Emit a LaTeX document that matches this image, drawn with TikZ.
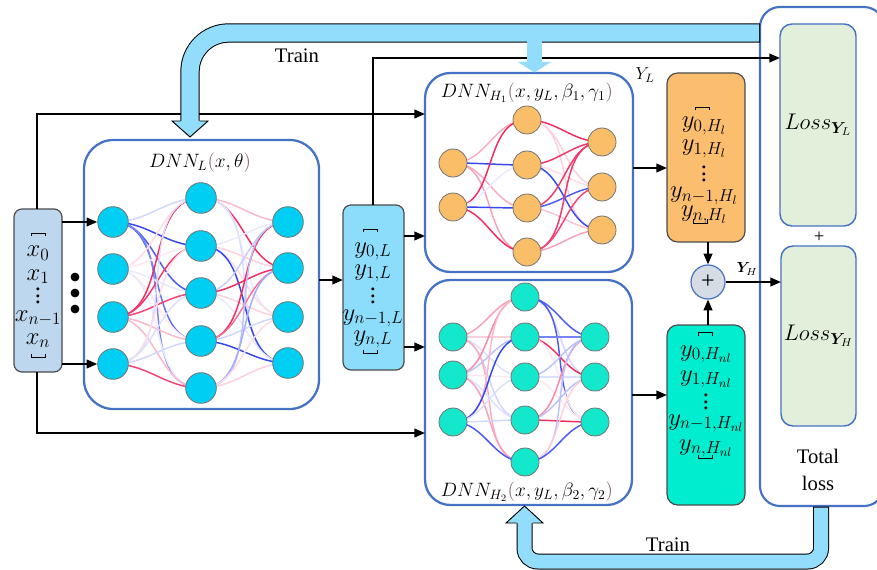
\RequirePackage{fix-cm}
\documentclass[tikz,border=0pt]{standalone}
\usepackage[no-math]{fontspec}
\setmainfont{Liberation Serif}
\usepackage{amsmath}
\usepackage{bm}
\usetikzlibrary{arrows.meta,calc}
\pgfdeclarelayer{boxes}
\pgfdeclarelayer{edges}
\pgfsetlayers{boxes,edges,main}
\definecolor{bandc}{RGB}{146,220,252}
\definecolor{inboxc}{RGB}{189,215,238}
\definecolor{midboxc}{RGB}{140,221,252}
\definecolor{boxblue}{RGB}{68,114,196}
\definecolor{cyann}{RGB}{0,206,242}
\definecolor{orn}{RGB}{250,190,105}
\definecolor{ornbox}{RGB}{250,190,110}
\definecolor{tealn}{RGB}{20,232,204}
\definecolor{tealbox}{RGB}{0,237,207}
\definecolor{lossg}{RGB}{226,239,218}
\definecolor{plusg}{RGB}{214,220,229}
\definecolor{redw}{RGB}{240,20,80}
\definecolor{bluew}{RGB}{30,50,240}
\definecolor{parenc}{RGB}{130,100,100}
\newcommand{\lp}{{\color{parenc}(}}
\newcommand{\rp}{{\color{parenc})}}
\newcommand{\myvdots}{\vbox{\baselineskip5pt\lineskiplimit0pt\hbox{.}\hbox{.}\hbox{.}}}
\tikzset{
  arr/.style={draw=black, line width=1.4pt, -{Triangle[length=8pt,width=6.5pt]}},
  dnnbox/.style={draw=boxblue, line width=1.7pt, fill=white, inner sep=0pt, outer sep=0pt, rounded corners=#1},
  dnnbox/.default=19pt,
  vecbox/.style={draw=black!70, line width=0.9pt, rounded corners=6pt, inner sep=0pt, outer sep=0pt},
  neuron/.style={circle, draw=black!55, line width=0.6pt, inner sep=0pt, minimum size=#1},
  lossbox/.style={draw=boxblue, line width=1.1pt, fill=lossg, rounded corners=9pt, inner sep=0pt, outer sep=0pt},
  vt/.style={font=\fontsize{18.5}{20}\selectfont, inner sep=0pt, anchor=base},
  vd/.style={font=\fontsize{18.5}{20}\selectfont, inner sep=0pt, anchor=center},
  titletext/.style={font=\fontsize{14.5}{17}\selectfont, inner sep=0pt},
  lbl/.style={font=\fontsize{15.5}{20}\selectfont, inner sep=0pt},
  topbr/.pic={\draw[line width=0.6pt] (-7,3.5) -- (-7,0) -- (7,0) -- (7,3.5);},
  botbr/.pic={\draw[line width=0.6pt] (-7,-3.5) -- (-7,0) -- (7,0) -- (7,-3.5);},
}
\begin{document}
\begin{tikzpicture}[x=0.75pt,y=-0.75pt]
\useasboundingbox (0,0) rectangle (877,570);

% ---------- boxes ----------
\begin{pgfonlayer}{boxes}
\node[vecbox, fill=inboxc, minimum width=36pt, minimum height=122.25pt] (vin) at (38,290.5) {};
\node[dnnbox=22pt, minimum width=176.25pt, minimum height=201.75pt] (Lbox) at (201.5,274.5) {};
\node[vecbox, fill=midboxc, minimum width=45.75pt, minimum height=123.75pt] (vmid) at (373.5,287.5) {};
\node[dnnbox, minimum width=156pt, minimum height=149.25pt] (H1box) at (529,172.5) {};
\node[dnnbox, minimum width=155.25pt, minimum height=168.75pt] (H2box) at (528.5,392.5) {};
\node[vecbox, fill=ornbox, rounded corners=8pt, minimum width=58.5pt, minimum height=126.75pt] (vor) at (706,157.5) {};
\node[vecbox, fill=tealbox, rounded corners=8pt, minimum width=58.5pt, minimum height=135pt] (vte) at (706,415) {};
\node[draw=boxblue, line width=1.6pt, fill=white, rounded corners=15pt, inner sep=0pt, outer sep=0pt,
      minimum width=93pt, minimum height=374.25pt] (tot) at (822,256.5) {};
\node[lossbox, minimum width=57pt, minimum height=151.5pt] (lossL) at (818,125) {};
\node[lossbox, minimum width=56.25pt, minimum height=135pt] (lossH) at (818.5,336) {};
\end{pgfonlayer}

% ---------- neurons ----------
\foreach \n/\y in {1/222,2/269,3/317,4/364} \node[neuron=23pt, fill=cyann] (a\n) at (113,\y) {};
\foreach \n/\y in {1/198,2/246,3/293,4/341,5/388} \node[neuron=23pt, fill=cyann] (b\n) at (201,\y) {};
\foreach \n/\y in {1/222,2/268,3/317,4/363} \node[neuron=23pt, fill=cyann] (c\n) at (288,\y) {};
\foreach \n/\y in {1/163,2/207} \node[neuron=21pt, fill=orn] (d\n) at (453,\y) {};
\foreach \n/\y in {1/120,2/165,3/208,4/252} \node[neuron=21pt, fill=orn] (e\n) at (527,\y) {};
\foreach \n/\y in {1/142,2/187,3/230} \node[neuron=21pt, fill=orn] (f\n) at (602,\y) {};
\foreach \n/\y in {1/337,2/375,3/422} \node[neuron=21pt, fill=tealn] (g\n) at (453,\y) {};
\foreach \n/\y in {1/297,2/337,3/377,4/420,5/462} \node[neuron=21pt, fill=tealn] (h\n) at (525,\y) {};
\foreach \n/\y in {1/337,2/377,3/422} \node[neuron=21pt, fill=tealn] (i\n) at (595,\y) {};

% ---------- edges ----------
\begin{pgfonlayer}{edges}
\foreach \s/\t/\c/\o in {
  a1/b1/bluew/20, a1/b2/bluew/90, a1/b3/bluew/80, a1/b4/bluew/70, a1/b5/bluew/60,
  a2/b1/redw/15, a2/b2/redw/10, a2/b3/bluew/10, a2/b4/redw/10, a2/b5/bluew/10,
  a3/b1/redw/90, a3/b2/redw/85, a3/b3/redw/80, a3/b4/redw/30, a3/b5/redw/30,
  a4/b1/bluew/15, a4/b2/redw/15, a4/b3/bluew/15, a4/b4/bluew/20, a4/b5/redw/80,
  b1/c1/redw/30, b1/c2/redw/90, b1/c3/bluew/10, b1/c4/bluew/15,
  b2/c1/bluew/10, b2/c2/redw/20, b2/c3/redw/15, b2/c4/bluew/90,
  b3/c1/bluew/25, b3/c2/redw/90, b3/c3/redw/20, b3/c4/bluew/10,
  b4/c1/redw/90, b4/c2/redw/60, b4/c3/bluew/20, b4/c4/bluew/90,
  b5/c1/bluew/30, b5/c2/bluew/40, b5/c3/redw/15, b5/c4/redw/20,
  d1/e1/redw/35, d1/e2/bluew/90, d1/e3/redw/35, d1/e4/redw/40,
  d2/e1/redw/90, d2/e2/bluew/10, d2/e3/bluew/90, d2/e4/redw/90,
  e1/f1/redw/90, e1/f2/redw/20, e1/f3/redw/20,
  e2/f1/redw/85, e2/f2/redw/15, e2/f3/bluew/90,
  e3/f1/redw/85, e3/f2/bluew/80, e3/f3/redw/25,
  e4/f1/redw/85, e4/f2/redw/80, e4/f3/redw/40,
  g1/h1/redw/40, g1/h2/redw/20, g1/h3/bluew/15, g1/h4/bluew/20, g1/h5/redw/35,
  g2/h1/redw/50, g2/h2/bluew/30, g2/h3/redw/10, g2/h4/bluew/15, g2/h5/redw/40,
  g3/h1/redw/30, g3/h2/bluew/90, g3/h3/bluew/15, g3/h4/bluew/20, g3/h5/bluew/80,
  h1/i1/bluew/80, h1/i2/bluew/20, h1/i3/bluew/80,
  h2/i1/bluew/60, h2/i2/redw/90, h2/i3/redw/10,
  h3/i1/bluew/30, h3/i2/bluew/15, h3/i3/redw/10,
  h4/i1/redw/50, h4/i2/bluew/30, h4/i3/redw/90,
  h5/i1/bluew/30, h5/i2/redw/20, h5/i3/bluew/80}
  \draw[draw=\c!\o!white, line width=1.1pt] (\s.center) to[out=0,in=180] (\t.center);
\end{pgfonlayer}

% ---------- titles ----------
\node[titletext] (tL) at (200,163) {$DNN_{L}\lp x,\theta\rp$};
\node[titletext] (tH1) at (527,93) {$DNN_{H_1}\lp x,y_L,\beta_1,\gamma_1\rp$};
\node[titletext] (tH2) at (527,492) {$DNN_{H_2}\lp x,y_L,\beta_2,\gamma_2\rp$};

% ---------- vector contents ----------
\node[vt] (x0) at (38,257) {$x_0$};
\node[vt] (x1) at (38,280) {$x_1$};
\node[vd] (xd) at (38,296) {\myvdots};
\node[vt] (xn1) at (38,321) {$x_{n-1}$};
\node[vt] (xn) at (38,344) {$x_n$};
\pic at (38,233) {topbr}; \pic at (38,357) {botbr};

\node[vt] (m0) at (373,253) {$y_{0,L}$};
\node[vt] (m1t) at (373,275) {$y_{1,L}$};
\node[vd] (md) at (373,296) {\myvdots};
\node[vt] (mn1) at (373,320) {$y_{n-1,L}$};
\node[vt] (mn) at (373,341) {$y_{n,L}$};
\pic at (370,229) {topbr}; \pic at (370,353) {botbr};

\node[vt] (o0) at (704,128) {$y_{0,H_{l}}$};
\node[vt] (o1t) at (704,151) {$y_{1,H_{l}}$};
\node[vd] (od) at (704,174) {\myvdots};
\node[vt] (on1) at (704,198) {$y_{n-1,H_{l}}$};
\node[vt] (on) at (704,217) {$y_{n,H_{l}}$};
\pic at (702,107) {topbr}; \pic at (700,223) {botbr};

\node[vt] (t0) at (706,356) {$y_{0,H_{nl}}$};
\node[vt] (t1) at (706,381) {$y_{1,H_{nl}}$};
\node[vd] (td) at (706,402) {\myvdots};
\node[vt] (tn1) at (706,425) {$y_{n-1,H_{nl}}$};
\node[vt] (tn) at (706,450) {$y_{n,H_{nl}}$};
\pic at (705,332) {topbr}; \pic at (705,458) {botbr};

% big dots
\foreach \y in {277,293,309} \fill (75,\y) circle (3.3pt);

% ---------- plus & losses ----------
\node[circle, draw=boxblue, fill=plusg, line width=0.9pt, minimum size=25.5pt, inner sep=0pt,
      font=\fontsize{18}{18}\selectfont] (plus) at (708,282) {+};
\node[font=\fontsize{17}{19}\selectfont] (lossLt) at (lossL) {$Loss_{\bm{Y}_{L}}$};
\node[font=\fontsize{17}{19}\selectfont] (lossHt) at (lossH) {$Loss_{\bm{Y}_{H}}$};
\node[font=\fontsize{14}{14}\selectfont, inner sep=0pt] (lplus) at (819,237) {+};
\node[lbl, align=center] (totlbl) at (818,470) {Total\\loss};
\node[font=\fontsize{11}{13}\selectfont, inner sep=0pt] (yhl) at (747,269) {$\bm{Y}_{H}$};
\node[font=\fontsize{13}{15}\selectfont, inner sep=0pt] (yll) at (645,75) {$Y_{L}$};

% ---------- arrows ----------
\draw[arr] (vin.east |- a1) -- (a1.west);
\draw[arr] (vin.east |- a4) -- (a4.west);
\coordinate (lmid) at (0,280);
\draw[arr] (Lbox.east |- lmid) -- (vmid.west |- lmid);
\coordinate (mm1) at (0,236);
\coordinate (mm2) at (0,347);
\draw[arr] (vmid.east |- mm1) -- (H1box.west |- mm1);
\draw[arr] (vmid.east |- mm2) -- (H2box.west |- mm2);
\coordinate (tin) at (37,114);
\coordinate (bin) at (37,433);
\draw[arr] (vin.north -| tin) -- (tin) -- (H1box.west |- tin);
\draw[arr] (vin.south -| bin) -- (bin) -- (H2box.west |- bin);
\coordinate (yl) at (373,58);
\draw[arr] (vmid.north -| yl) -- (yl) -- (lossL.west |- yl);
\coordinate (oo1) at (0,168);
\coordinate (oo2) at (0,395);
\draw[arr] (H1box.east |- oo1) -- (vor.west |- oo1);
\draw[arr] (H2box.east |- oo2) -- (vte.west |- oo2);
\draw[arr] (vor.south -| plus) -- (plus.north);
\draw[arr] (vte.north -| plus) -- (plus.south);
\draw[arr] (plus.east) -- (lossH.west |- plus);

% ---------- train bands ----------
\draw[line width=14.5pt, black, rounded corners=29pt] (760,33) -- (190,33) -- (190,123);
\draw[line width=13pt, bandc, rounded corners=29pt] (759,33) -- (190,33) -- (190,124);
\fill[bandc] (172,121) -- (190,137) -- (208,121) -- cycle;
\draw[line width=0.7pt] (180.5,121) -- (172,121) -- (190,137) -- (208,121) -- (199.5,121);
\fill[bandc] (527,40) rectangle (542,63);
\fill[bandc] (518,62) -- (534.5,72.5) -- (551,62) -- cycle;
\node[lbl] (train1) at (297,56) {Train};

\draw[line width=12pt, black, rounded corners=10pt] (821,506.5) -- (821,561.5) -- (524.5,561.5) -- (524.5,521);
\draw[line width=10.5pt, bandc, rounded corners=10pt] (821,507.5) -- (821,561.5) -- (524.5,561.5) -- (524.5,520);
\fill[bandc] (506,523) -- (524.5,506) -- (543,523) -- cycle;
\draw[line width=0.7pt] (516.5,523) -- (506,523) -- (524.5,506) -- (543,523) -- (532.5,523);
\node[lbl] (train2) at (668,545) {Train};
\end{tikzpicture}
\end{document}
